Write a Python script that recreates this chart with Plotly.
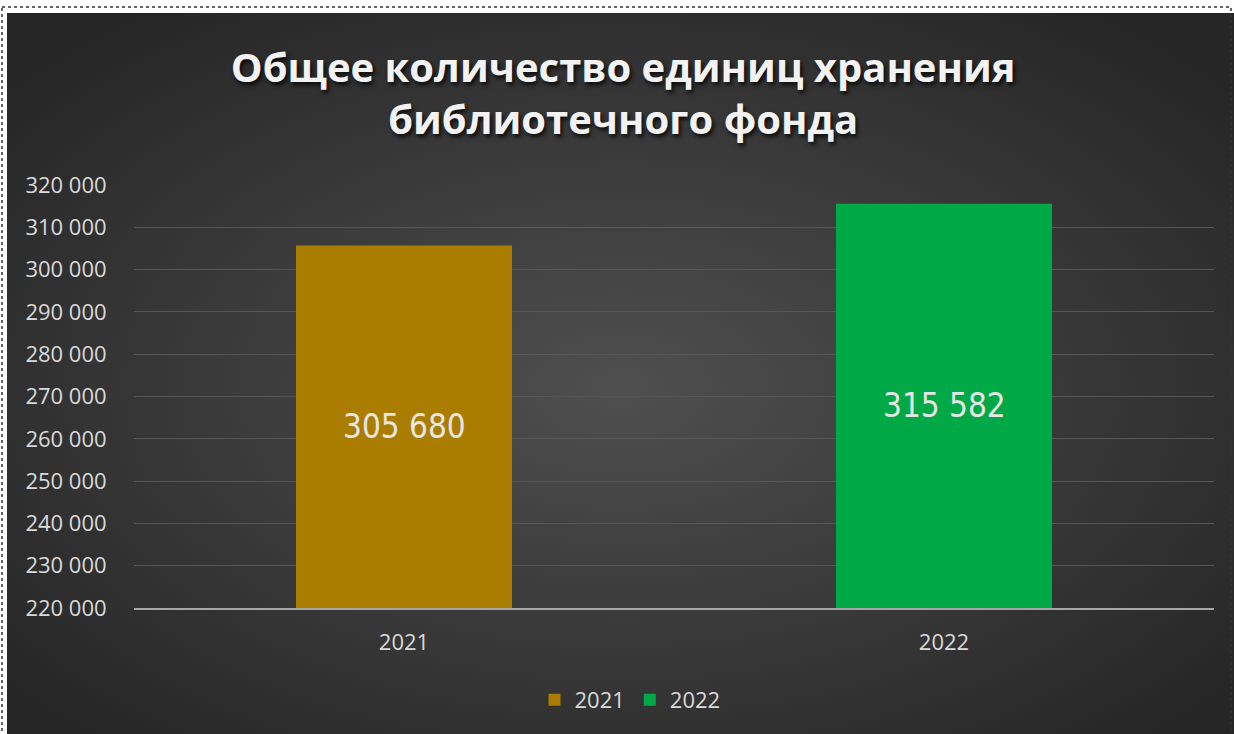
import plotly.graph_objects as go
import urllib.parse

categories = ["2021", "2022"]
series_names = ["2021", "2022"]
values = [305680, 315582]
bar_colors = ["#aa7d00", "#00a945"]
y_ticks = [220000, 230000, 240000, 250000, 260000, 270000, 280000, 290000, 300000, 310000, 320000]
y_min, y_max = 220000, 320000

W, H = 1234, 734
L, R, T, B = 134, 20, 185, 126
pw, ph = W - L - R, H - T - B

def px_to_paper(px, py):
    return (px - L) / pw, (H - B - py) / ph

svg = ('<svg xmlns="http://www.w3.org/2000/svg" width="1227" height="721">'
       '<defs><radialGradient id="g" cx="50%" cy="52%" r="65%">'
       '<stop offset="0%" stop-color="#4f4f4f"/><stop offset="100%" stop-color="#262626"/>'
       '</radialGradient></defs><rect width="1227" height="721" fill="url(#g)"/></svg>')
bg_uri = "data:image/svg+xml;charset=utf-8," + urllib.parse.quote(svg)

fig = go.Figure()
for name, cat, val, col in zip(series_names, categories, values, bar_colors):
    fig.add_trace(go.Bar(
        x=[cat], y=[val], name=name,
        marker=dict(color=col, line=dict(width=0)),
        textposition="none",
        width=0.4,
    ))

annotations = []
for i, (cat, val) in enumerate(zip(categories, values)):
    annotations.append(dict(
        x=i, y=(max(val, y_min) + y_min) / 2, xref="x", yref="y",
        text=f"{val:,d}".replace(",", " "), showarrow=False,
        font=dict(family="DejaVu Sans Condensed, Roboto", size=33, color="#e6e6e6"),
    ))

x0, y0 = px_to_paper(7, 13)
x1, y1 = px_to_paper(1234, 734)
dx0, dy0 = px_to_paper(2, 7)
dx1, dy1 = px_to_paper(1231, 760)

fig.update_layout(
    width=W, height=H,
    margin=dict(l=L, r=R, t=T, b=B),
    paper_bgcolor="white", plot_bgcolor="rgba(0,0,0,0)",
    separators=". ",
    barmode="overlay",
    title=dict(
        text="Общее количество единиц хранения<br>библиотечного фонда",
        x=0.505, xanchor="center", y=1 - 82 / H, yanchor="middle",
        font=dict(family="Open Sans, DejaVu Sans", size=40, color="#f2f2f2", weight="bold",
                  shadow="2px 3px 4px rgba(0,0,0,0.8)"),
    ),
    annotations=annotations,
    images=[dict(source=bg_uri, xref="paper", yref="paper", x=x0, y=y0,
                 sizex=x1 - x0, sizey=y0 - y1, sizing="stretch", layer="below", xanchor="left", yanchor="top")],
    shapes=[dict(type="rect", xref="paper", yref="paper", x0=dx0, y0=dy0, x1=dx1, y1=dy1,
                 line=dict(color="#333333", width=1.5, dash="dot"), fillcolor="rgba(0,0,0,0)", layer="below")],
    xaxis=dict(
        type="category", categoryorder="array", categoryarray=categories,
        range=[-0.5, len(categories) - 0.5],
        showgrid=False, showline=True, linecolor="#a6a6a6", linewidth=2,
        ticks="outside", ticklen=14, tickcolor="rgba(0,0,0,0)",
        tickfont=dict(family="Open Sans, Lato", size=22, color="#d9d9d9"),
    ),
    yaxis=dict(
        range=[y_min, y_max], tickvals=y_ticks, tickformat=",d",
        showgrid=True, gridcolor="#565656", gridwidth=1.3, zeroline=False, showline=False,
        ticks="outside", ticklen=22, tickcolor="rgba(0,0,0,0)",
        tickfont=dict(family="Open Sans, Lato", size=22, color="#d9d9d9"),
    ),
    legend=dict(orientation="h", x=px_to_paper(630, 0)[0], xanchor="center", y=px_to_paper(0, 700)[1], yanchor="middle",
                font=dict(family="Open Sans, Lato", size=22, color="#d9d9d9"),
                bgcolor="rgba(0,0,0,0)", itemwidth=30),
    showlegend=True,
)

fig.write_html("out.html", config={"displayModeBar": False},
               post_script="document.body.style.margin='0';")
